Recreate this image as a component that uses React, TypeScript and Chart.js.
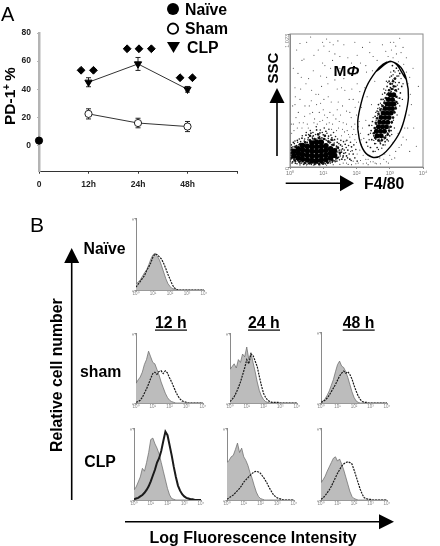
import React, { useEffect, useRef } from "react";
import { Chart, registerables } from "chart.js";

Chart.register(...registerables);

// ---------- Panel A ----------
const timeLabels = ["0", "12h", "24h", "48h", ""];
const timePositions = [1, 2, 3];
const naiveValue = [3.5];
const shamValues = [22.5, 16, 13.5];
const shamErrors = [3.6, 3.4, 3.6];
const clpValues = [45, 58, 40];
const clpErrors = [3.2, 4.6, 2];
const percentTicks = [0, 20, 40, 60, 80];
const legendLabels = ["Naïve", "Sham", "CLP"];
const diamondX = [0.85, 1.1, 1.78, 2.02, 2.27, 2.85, 3.1];
const diamondY = [53.5, 53.5, 68.8, 68.8, 68.8, 48.2, 48.2];

// ---------- Dot plot: [log10 F4/80, SSC] ----------
const lymphCore = [[0.12,85],[0.12,120],[0.25,70],[0.25,105],[0.25,140],[0.38,60],[0.38,95],[0.38,130],[0.38,165],[0.52,55],[0.52,90],[0.52,125],[0.52,160],[0.66,50],[0.66,85],[0.66,120],[0.66,155],[0.66,185],[0.8,50],[0.8,85],[0.8,120],[0.8,155],[0.8,190],[0.94,52],[0.94,87],[0.94,122],[0.94,157],[0.94,190],[1.08,58],[1.08,93],[1.08,128],[1.08,163],[1.22,70],[1.22,105],[1.22,140],[1.34,90],[1.34,125]];
const macCore = [[2.62,240],[2.74,240],[2.6,275],[2.72,275],[2.84,275],[2.66,310],[2.78,310],[2.9,310],[2.7,345],[2.82,345],[2.94,345],[2.74,380],[2.86,380],[2.98,380],[2.8,415],[2.92,415],[3.04,415],[2.86,450],[2.98,450],[3.08,450],[2.92,485],[3.02,485],[3.12,485],[2.96,520],[3.08,520],[3.02,555],[3.12,555]];
const macShoulder = [[2.52,260],[2.55,300],[2.58,340],[2.62,375],[2.66,410],[2.72,440],[2.78,470],[2.84,495],[2.88,530],[2.94,560],[2.98,590],[3.06,600],[3.12,620],[3.18,590],[3.2,540],[3.2,500],[3.18,450],[3.14,420],[3.1,380],[3.06,345],[3.02,310],[2.98,280],[2.94,250],[2.86,225],[2.76,205],[2.66,205],[2.56,225],[3.1,660],[3.02,640],[3.16,680]];
const lymphShoulder = [[0.04,70],[0.04,105],[0.06,135],[0.14,50],[0.16,155],[0.28,40],[0.3,175],[0.44,30],[0.46,190],[0.58,28],[0.6,205],[0.74,25],[0.74,215],[0.88,24],[0.88,222],[1,28],[1.02,215],[1.14,34],[1.16,195],[1.28,48],[1.3,170],[1.42,70],[1.44,150],[1.5,110],[0.6,240],[0.85,250],[1.05,240],[1.25,210]];
const lymphHalo = [[0.02,60],[0.03,110],[0.05,150],[0.08,40],[0.1,190],[0.12,130],[0.14,72],[0.16,30],[0.2,165],[0.22,205],[0.24,48],[0.26,145],[0.3,25],[0.33,180],[0.36,222],[0.38,42],[0.4,160],[0.43,200],[0.46,30],[0.48,245],[0.5,48],[0.52,190],[0.55,225],[0.58,36],[0.6,205],[0.63,260],[0.66,30],[0.68,218],[0.7,240],[0.73,34],[0.76,212],[0.8,285],[0.82,30],[0.85,228],[0.88,205],[0.9,262],[0.92,36],[0.96,225],[1,248],[1.02,32],[1.05,215],[1.08,275],[1.1,38],[1.14,200],[1.16,238],[1.2,44],[1.22,190],[1.26,225],[1.28,56],[1.32,170],[1.34,210],[1.38,62],[1.4,160],[1.42,190],[1.46,75],[1.48,130],[1.5,100],[1.52,170],[1.56,60],[1.58,140],[1.62,105],[1.66,175],[1.7,85],[1.74,130],[1.8,60],[1.85,155],[1.9,100],[0.06,85],[0.1,100],[0.15,55],[0.2,125],[0.62,30],[0.78,26],[0.95,28],[1.12,50],[1.35,48],[1.45,145],[1.55,115],[1.6,85]];
const lymphGrain = [[0.01,45],[0.02,90],[0.02,130],[0.04,170],[0.06,30],[0.07,120],[0.09,155],[0.11,60],[0.13,180],[0.15,200],[0.17,42],[0.18,160],[0.21,25],[0.23,190],[0.27,170],[0.28,215],[0.31,40],[0.32,195],[0.35,30],[0.37,240],[0.41,20],[0.44,215],[0.47,185],[0.49,265],[0.51,22],[0.54,210],[0.56,250],[0.59,195],[0.61,280],[0.64,20],[0.67,230],[0.69,265],[0.72,205],[0.74,18],[0.77,250],[0.79,310],[0.81,215],[0.84,255],[0.87,18],[0.89,235],[0.91,285],[0.93,215],[0.97,265],[0.99,22],[1.01,215],[1.03,300],[1.06,240],[1.07,24],[1.09,205],[1.11,260],[1.13,28],[1.15,220],[1.17,290],[1.19,185],[1.21,30],[1.23,245],[1.25,170],[1.27,35],[1.29,205],[1.31,265],[1.33,185],[1.36,40],[1.37,235],[1.39,145],[1.41,45],[1.43,215],[1.44,115],[1.47,180],[1.49,55],[1.51,85],[1.53,205],[1.54,130],[1.57,160],[1.59,75],[1.61,195],[1.63,130],[1.65,55],[1.67,110],[1.69,150],[1.71,205],[1.73,70],[1.76,165],[1.78,100],[1.82,190],[1.84,50],[1.87,125],[1.92,170],[1.95,70],[1.98,135],[2.02,45]];
const macHalo = [[2.3,190],[2.36,250],[2.38,320],[2.42,150],[2.44,280],[2.46,210],[2.48,350],[2.5,120],[2.52,240],[2.54,300],[2.55,180],[2.56,390],[2.58,215],[2.6,265],[2.6,330],[2.62,150],[2.62,430],[2.64,230],[2.66,360],[2.7,200],[2.7,400],[2.72,180],[2.74,450],[2.76,215],[2.76,380],[2.8,170],[2.82,230],[2.82,420],[2.84,490],[2.86,195],[2.88,240],[2.88,450],[2.9,530],[2.92,210],[2.94,260],[2.94,480],[2.96,570],[2.98,300],[3,240],[3,540],[3.02,610],[3.04,280],[3.04,580],[3.06,340],[3.08,640],[3.1,380],[3.1,600],[3.12,430],[3.14,680],[3.15,510],[3.16,590],[3.18,460],[3.18,620],[3.2,540],[3.22,700],[3.24,490],[3.26,600],[3.28,650],[3.3,530],[3.3,720],[3.32,570],[3.36,620],[2.98,660],[3.05,700],[2.92,620],[2.85,570],[2.8,520],[2.74,520],[2.66,480],[3.12,740],[3.2,760],[3.08,780]];
const macGrain = [[2.52,205],[2.55,265],[2.57,330],[2.58,180],[2.59,360],[2.61,225],[2.63,300],[2.64,395],[2.65,200],[2.67,425],[2.68,215],[2.69,455],[2.71,190],[2.73,430],[2.75,480],[2.77,205],[2.79,440],[2.81,470],[2.83,215],[2.85,510],[2.87,225],[2.89,490],[2.91,555],[2.93,245],[2.95,530],[2.97,595],[2.99,270],[3.01,570],[3.03,640],[3.05,310],[3.07,600],[3.09,670],[3.11,360],[3.13,620],[3.15,420],[3.17,650],[3.19,480],[3.21,580],[3.23,630],[3.25,530],[3.27,700],[2.88,590],[2.94,650],[3,690],[3.03,730],[3.1,710],[3.16,730],[3.26,740],[2.78,560],[2.72,490],[2.64,450],[2.58,420],[2.5,380],[2.46,320],[2.42,260],[2.38,210],[2.34,160],[2.56,120],[2.66,135],[2.76,145],[2.86,170],[2.96,200],[3.06,250],[3.14,300],[3.22,400],[3.3,470],[3.38,520],[3.4,640],[3.34,680],[2.82,600],[2.9,660]];
const sparseEvents = [[0.05,260],[0.1,330],[0.08,470],[0.15,610],[0.1,760],[0.2,900],[0.22,300],[0.25,420],[0.3,520],[0.34,690],[0.4,340],[0.45,470],[0.42,830],[0.5,960],[0.55,300],[0.6,410],[0.65,590],[0.7,740],[0.72,340],[0.8,480],[0.85,900],[0.9,350],[0.95,620],[1,440],[1.05,780],[1.1,330],[1.15,540],[1.2,960],[1.25,290],[1.3,400],[1.35,670],[1.4,280],[1.45,500],[1.5,850],[1.55,240],[1.6,340],[1.65,590],[1.7,430],[1.75,720],[1.8,230],[1.85,310],[1.9,520],[1.95,960],[2,190],[2,400],[2.02,640],[2.05,270],[2.1,130],[2.12,800],[2.15,460],[2.2,90],[2.25,610],[2.28,360],[2.3,730],[2.35,60],[2.4,880],[2.45,480],[2.5,40],[2.55,660],[2.62,820],[2.7,70],[2.78,940],[2.85,100],[2.95,850],[3.05,900],[3.12,960],[3.2,870],[3.3,990],[3.4,920],[3.5,840],[3.55,640],[3.65,480],[3.7,760],[3.45,300],[3.5,210],[3.25,260],[3.35,170],[3.1,190],[3,90],[3.15,70],[3.6,120],[1.6,30],[1.75,20],[1.9,45],[2.05,30],[2.2,25],[2.35,18],[2.6,25],[2.9,40],[1.35,870],[1.1,690],[0.62,1000],[0.3,950],[0.15,480],[0.48,640],[0.78,560],[1.22,760],[1.55,610],[1.78,520],[1.95,330],[1.68,200],[1.82,120],[2.02,100],[2.15,170],[2.28,60],[2.42,40],[2.12,260],[2.22,220],[1.95,210],[1.88,250],[2.08,350],[1.72,280],[1.48,350],[1.2,420],[0.92,490],[0.68,420],[2.4,960],[2.18,920],[1.85,800],[1.62,940],[2.48,740],[2.32,540]];
const sparseMore = [[0.04,330],[0.12,280],[0.18,380],[0.28,340],[0.36,300],[0.44,390],[0.52,330],[0.58,470],[0.74,370],[0.82,330],[0.88,420],[0.98,360],[1.04,400],[1.12,380],[1.18,340],[1.28,330],[1.38,370],[1.46,300],[1.52,400],[1.58,290],[1.64,270],[1.7,330],[1.76,250],[1.84,380],[1.92,290],[1.98,250],[2.06,310],[2.14,210],[2.18,300],[0.16,540],[0.32,600],[0.64,510],[0.86,560],[1.02,520],[1.24,500],[1.42,440],[1.58,470],[1.8,420],[1.96,460],[2.06,500],[0.24,720],[0.56,680],[0.92,700],[1.14,640],[1.42,600],[1.62,680],[1.86,600],[2,720],[2.1,580],[0.36,820],[0.72,860],[0.98,800],[1.28,820],[1.5,760],[1.74,840],[2.02,860],[2.28,780],[2.5,850],[0.98,960],[1.1,985],[1.02,930],[1.18,890],[1.3,940],[1.44,970],[2.88,890],[3.02,960],[3.1,840],[3.18,930],[3.26,810],[3.34,880],[3.42,790],[3.5,730],[3.6,690],[3.62,560],[3.58,400],[3.72,300],[3.8,160],[3.86,620],[3.54,300],[3.4,230],[3.28,150],[3.18,120],[3.06,60],[2.96,30],[2.82,60],[2.72,25],[2.48,75],[2.4,90],[2.56,30],[2.3,30],[2.12,50],[1.98,25],[1.85,18],[1.7,30],[0.3,14],[0.5,10],[0.7,12],[0.9,10],[1.1,14],[1.3,18],[1.5,20]];

// Closed gate outline, same units as the events
const gateX = [2.58, 3.07, 3.5, 3.47, 3.02, 2.48, 2.08, 2.14, 2.58, 3.07, 3.5];
const gateY = [733, 810, 673, 398, 157, 75, 221, 491, 733, 810, 673];
const dotTickLabels = ["10⁰", "10¹", "10²", "10³", "10⁴"];

// ---------- Histograms: % of axis height per bin ----------
const binCentres = [0,0.125,0.25,0.375,0.5,0.625,0.75,0.875,1,1.125,1.25,1.375,1.5,1.625,1.75,1.875,2,2.125,2.25,2.375,2.5,2.625,2.75,2.875,3,3.125,3.25,3.375,3.5,3.625,3.75,3.875,4];
const naiveGrey = [8,11,14,19,24,28,35,43,49,51,47,42,34,25,16,9,5,2,1];
const naiveLine = [4,8,12,16,20,27,32,38,46,50,49,46,43,37,30,22,15,8,3,1];
const sham12Grey = [28,33,37,44,55,62,74,66,58,56,48,40,30,22,14,8,4,2,1];
const sham12Line = [1,2,4,8,14,20,27,35,42,44,41,45,46,42,46,43,36,30,23,16,10,6,3,2,1];
const sham24Grey = [48,52,56,50,62,58,70,66,80,62,72,58,45,30,18,10,5,2,1];
const sham24Line = [2,5,9,15,22,30,40,50,62,56,70,68,60,52,38,25,14,8,4,2,1,1,1,1];
const sham48Grey = [1,3,6,11,17,25,33,44,54,59,52,50,44,36,26,16,8,3,1];
const sham48Line = [1,2,4,7,11,16,21,26,32,38,42,45,42,44,40,34,25,17,10,5,2,1,1];
const clp12Grey = [14,18,25,32,44,40,52,66,84,86,78,72,64,52,40,28,16,7,2,1];
const clp12Line = [1,2,3,5,7,10,14,19,26,34,42,52,58,68,82,95,90,76,62,46,32,20,13,8,5,3,2,1,1];
const clp24Grey = [52,55,60,62,70,79,66,72,60,55,48,38,30,20,11,5,2,1];
const clp24Line = [1,3,5,7,10,13,16,20,25,28,31,34,37,39,40,39,37,33,29,24,18,13,8,5,3,2,1];
const clp48Grey = [24,28,33,40,46,52,58,60,54,57,50,42,32,22,12,5,2,1];
const clp48Line = [1,3,6,10,14,19,25,31,37,42,47,50,52,53,52,50,42,33,24,15,8,3,2,1,1];

const histoTickLabels = ["10⁰", "10¹", "10²", "10³", "10⁴"];

const FONT = '"Liberation Sans", Arial, sans-serif';

const histoPanels = [
  { box: [136, 218, 68, 72], grey: naiveGrey, line: naiveLine, width: 1.2 },
  { box: [136, 333, 67, 70], grey: sham12Grey, line: sham12Line, width: 1.2 },
  { box: [230, 333, 67, 70], grey: sham24Grey, line: sham24Line, width: 1.2 },
  { box: [320.7, 332, 66, 71], grey: sham48Grey, line: sham48Line, width: 1.2 },
  { box: [134.3, 428, 67, 72], grey: clp12Grey, line: clp12Line, width: 2 },
  { box: [227.3, 428, 67, 72], grey: clp24Grey, line: clp24Line, width: 1.2 },
  { box: [320.7, 428, 66, 72], grey: clp48Grey, line: clp48Line, width: 1.2 },
];

const fixWidth = (w: number) => (s: any) => { s.width = w; };
const fixHeight = (h: number) => (s: any) => { s.height = h; };

function arrow(ctx: any, x1: number, y1: number, x2: number, y2: number, head: number, half: number) {
  const len = Math.hypot(x2 - x1, y2 - y1);
  const ux = (x2 - x1) / len, uy = (y2 - y1) / len;
  const bx = x2 - ux * head, by = y2 - uy * head;
  ctx.strokeStyle = "#000";
  ctx.fillStyle = "#000";
  ctx.lineWidth = 1.6;
  ctx.beginPath(); ctx.moveTo(x1, y1); ctx.lineTo(bx, by); ctx.stroke();
  ctx.beginPath();
  ctx.moveTo(x2, y2);
  ctx.lineTo(bx - uy * half, by + ux * half);
  ctx.lineTo(bx + uy * half, by - ux * half);
  ctx.closePath(); ctx.fill();
}

function text(ctx: any, s: string, x: number, y: number, size: number, opts: any = {}) {
  ctx.save();
  ctx.translate(x, y);
  if (opts.rotate) ctx.rotate(opts.rotate);
  ctx.font = `${opts.style || "bold"} ${size}px ${FONT}`;
  ctx.fillStyle = "#000";
  ctx.textAlign = opts.align || "left";
  ctx.textBaseline = "alphabetic";
  ctx.fillText(s, 0, 0);
  ctx.restore();
}

const errorBarsPlugin = {
  id: "errorBars",
  beforeDatasetsDraw(chart: any) {
    const { ctx, scales } = chart;
    const draw = (vals: number[], errs: number[]) => {
      ctx.save();
      ctx.strokeStyle = "#222";
      ctx.lineWidth = 1;
      vals.forEach((v, i) => {
        const x = scales.x.getPixelForValue(timePositions[i]);
        const hi = scales.y.getPixelForValue(v + errs[i]);
        const lo = scales.y.getPixelForValue(v - errs[i]);
        ctx.beginPath();
        ctx.moveTo(x, hi); ctx.lineTo(x, lo);
        ctx.moveTo(x - 2.5, hi); ctx.lineTo(x + 2.5, hi);
        ctx.moveTo(x - 2.5, lo); ctx.lineTo(x + 2.5, lo);
        ctx.stroke();
      });
      ctx.restore();
    };
    draw(shamValues, shamErrors);
    draw(clpValues, clpErrors);
  },
};

const annotationsPlugin = {
  id: "annotations",
  afterDraw(chart: any) {
    const ctx = chart.ctx;
    ctx.save();
    text(ctx, "A", 1, 21, 20, { style: "normal" });
    text(ctx, "B", 30, 232, 21, { style: "normal" });
    const ys = [9, 28.7, 47.5];
    ctx.fillStyle = "#000";
    ctx.beginPath(); ctx.arc(173, ys[0], 6, 0, 7); ctx.fill();
    ctx.lineWidth = 1.8; ctx.strokeStyle = "#000";
    ctx.beginPath(); ctx.arc(173, ys[1], 5.2, 0, 7); ctx.stroke();
    ctx.beginPath(); ctx.moveTo(167, 42); ctx.lineTo(180, 42); ctx.lineTo(173.5, 53); ctx.closePath(); ctx.fill();
    text(ctx, legendLabels[0], 185, 14.5, 15.8);
    text(ctx, legendLabels[1], 185, 34, 15.8);
    text(ctx, legendLabels[2], 187, 53, 15.8);
    const r = -Math.PI / 2;
    text(ctx, "PD-1", 15, 125, 15.5, { rotate: r });
    text(ctx, "+", 9.5, 90, 10, { rotate: r });
    text(ctx, "%", 15, 81, 15.5, { rotate: r });
    text(ctx, "SSC", 277.5, 83.5, 15, { rotate: r });
    arrow(ctx, 277, 156, 277, 88, 15, 7.5);
    text(ctx, "F4/80", 364, 189, 15.8);
    arrow(ctx, 285.7, 183.3, 354, 183.3, 14, 8);
    text(ctx, "M", 333.5, 75.5, 15.5);
    text(ctx, "Φ", 346.5, 75.5, 15.5, { style: "italic bold" });
    text(ctx, "Naïve", 83.5, 254, 15.8);
    text(ctx, "sham", 80, 377, 15.8);
    text(ctx, "CLP", 84.3, 466.7, 15.8);
    const heads: [string, number][] = [["12 h", 155], ["24 h", 248], ["48 h", 342.7]];
    heads.forEach(([s, x]) => {
      text(ctx, s, x, 328, 15.8);
      ctx.fillStyle = "#000";
      ctx.fillRect(x, 329.5, 32, 1.2);
    });
    text(ctx, "Relative cell number", 62, 452, 15.8, { rotate: r });
    arrow(ctx, 71.7, 500, 71.7, 248, 15, 7.5);
    arrow(ctx, 125, 521.7, 394, 521.7, 15, 7.5);
    text(ctx, "Log Fluorescence Intensity", 149.5, 543, 16);
    ctx.restore();
  },
};

const frameAreaPlugin = {
  id: "frameArea",
  afterDraw(chart: any) {
    const { ctx, chartArea: a } = chart;
    ctx.save();
    ctx.strokeStyle = "#8a8a8a";
    ctx.lineWidth = 1;
    ctx.strokeRect(a.left, a.top, a.right - a.left, a.bottom - a.top);
    ctx.restore();
  },
};

function mainConfig(): any {
  return {
    type: "scatter",
    data: {
      datasets: [
        {
          label: "Naïve",
          order: 1,
          data: naiveValue.map((y) => ({ x: 0, y })),
          pointStyle: "circle", pointRadius: 3.6,
          backgroundColor: "#000", borderColor: "#000",
          clip: false,
        },
        {
          label: "Sham",
          order: 2,
          data: shamValues.map((y, i) => ({ x: timePositions[i], y })),
          showLine: true, borderColor: "#333", borderWidth: 1,
          pointStyle: "circle", pointRadius: 3.6, pointBorderWidth: 1,
          pointBackgroundColor: "#fff", pointBorderColor: "#222",
        },
        {
          label: "CLP",
          order: 3,
          data: clpValues.map((y, i) => ({ x: timePositions[i], y })),
          showLine: true, borderColor: "#333", borderWidth: 1,
          pointStyle: "triangle", pointRotation: 180, pointRadius: 4.2,
          pointBackgroundColor: "#000", pointBorderColor: "#000",
        },
        {
          label: "Significance",
          order: 4,
          data: diamondX.map((x, i) => ({ x, y: diamondY[i] })),
          pointStyle: "rectRot", pointRadius: 3.9,
          backgroundColor: "#000", borderColor: "#000",
        },
      ],
    },
    options: {
      responsive: false,
      animation: false,
      layout: { padding: { left: 9, top: 33, right: 203, bottom: 354.3 } },
      plugins: { legend: { display: false }, tooltip: { enabled: false } },
      scales: {
        x: {
          type: "linear", min: 0, max: 4,
          afterFit: fixHeight(20),
          afterBuildTicks: (s: any) => { s.ticks = timeLabels.map((_, i) => ({ value: i })); },
          border: { color: "#333", width: 1 },
          grid: { drawOnChartArea: false, drawTicks: true, tickLength: 2, color: "#333" },
          ticks: {
            autoSkip: false, maxRotation: 0, padding: 6,
            color: "#222", font: { family: FONT, size: 8.5, weight: "bold" },
            callback: (v: number) => timeLabels[v],
          },
        },
        y: {
          type: "linear", min: -18.6, max: 80,
          afterFit: fixWidth(30),
          afterBuildTicks: (s: any) => { s.ticks = percentTicks.map((value) => ({ value })); },
          border: { color: "#b4b4b4", width: 2.5 },
          grid: { drawOnChartArea: false, drawTicks: true, tickLength: 2, color: "#b4b4b4" },
          ticks: {
            autoSkip: false, padding: 6,
            color: "#222", font: { family: FONT, size: 8.5, weight: "bold" },
          },
        },
      },
    },
    plugins: [errorBarsPlugin, annotationsPlugin],
  };
}

function toPoints(rows: number[][]) {
  return rows.map(([x, y]) => ({ x, y }));
}

function dotConfig(pad: number): any {
  const dots = (label: string, rows: number[][], radius: number, order: number, color = "#000") => ({
    label, order, data: toPoints(rows),
    pointRadius: radius, pointBorderWidth: 0,
    pointBackgroundColor: color, showLine: false,
  });
  return {
    type: "scatter",
    data: {
      datasets: [
        {
          label: "Gate", order: 0,
          data: gateX.map((x, i) => ({ x, y: gateY[i] })),
          showLine: true, tension: 0.42, borderColor: "#000", borderWidth: 1.4,
          pointRadius: 0,
        },
        dots("Lymphocyte core", lymphCore, 2.8, 1),
        dots("Macrophage core", macCore, 2.5, 2),
        dots("Macrophage shoulder", macShoulder, 1.3, 3, "#111"),
        dots("Lymphocyte shoulder", lymphShoulder, 1.3, 3, "#111"),
        dots("Lymphocyte halo", lymphHalo, 0.85, 4, "#111"),
        dots("Lymphocyte grain", lymphGrain, 0.8, 5, "#222"),
        dots("Macrophage halo", macHalo, 0.85, 6, "#111"),
        dots("Macrophage grain", macGrain, 0.7, 7, "#222"),
        dots("Sparse", sparseEvents, 0.55, 8, "#444"),
        dots("Sparse more", sparseMore, 0.55, 9, "#444"),
      ],
    },
    options: {
      responsive: false,
      animation: false,
      layout: { padding: { top: pad, right: pad, left: 0, bottom: 0 } },
      plugins: { legend: { display: false }, tooltip: { enabled: false } },
      scales: {
        x: {
          type: "linear", min: 0, max: 4,
          afterFit: fixHeight(pad),
          afterBuildTicks: (s: any) => { s.ticks = dotTickLabels.map((_, i) => ({ value: i })); },
          border: { color: "#8a8a8a" },
          grid: { drawOnChartArea: false, drawTicks: true, tickLength: 2, color: "#8a8a8a" },
          ticks: {
            autoSkip: false, maxRotation: 0, padding: 1, color: "#777",
            font: { family: FONT, size: 5.5 },
            callback: (v: number) => dotTickLabels[v],
          },
        },
        y: {
          type: "linear", min: 0, max: 1023,
          afterFit: fixWidth(pad),
          afterBuildTicks: (s: any) => { s.ticks = [0, 1023].map((value) => ({ value })); },
          border: { color: "#8a8a8a" },
          grid: { drawOnChartArea: false, drawTicks: true, tickLength: 2, color: "#8a8a8a" },
          ticks: {
            autoSkip: false, minRotation: 90, maxRotation: 90, padding: 1, color: "#777",
            font: { family: FONT, size: 5.5 },
          },
        },
      },
    },
    plugins: [frameAreaPlugin],
  };
}

function histoConfig(grey: number[], line: number[], width: number, pad: number): any {
  const points = (vals: number[]) => binCentres.map((x, i) => ({ x, y: vals[i] ?? 0 }));
  return {
    type: "scatter",
    data: {
      datasets: [
        {
          label: "Stained", order: 1, data: points(line),
          showLine: true, fill: false, tension: 0, pointRadius: 0,
          borderColor: "#1a1a1a", borderWidth: width,
          borderDash: width > 1.5 ? [] : [2, 1],
        },
        {
          label: "Control", order: 2, data: points(grey),
          showLine: true, fill: "origin", tension: 0, pointRadius: 0,
          backgroundColor: "#bcbcbc", borderColor: "#666", borderWidth: 0.7,
        },
      ],
    },
    options: {
      responsive: false,
      animation: false,
      layout: { padding: { top: pad, right: pad, left: 0, bottom: 0 } },
      plugins: { legend: { display: false }, tooltip: { enabled: false } },
      scales: {
        x: {
          type: "linear", min: 0, max: 4,
          afterFit: fixHeight(pad),
          afterBuildTicks: (s: any) => { s.ticks = histoTickLabels.map((_, i) => ({ value: i })); },
          border: { color: "#999" },
          grid: { drawOnChartArea: false, drawTicks: true, tickLength: 1.5, color: "#999" },
          ticks: {
            autoSkip: false, maxRotation: 0, padding: 0, color: "#888",
            font: { family: FONT, size: 4.5 },
            callback: (v: number) => histoTickLabels[v],
          },
        },
        y: {
          type: "linear", min: 0, max: 100,
          afterFit: fixWidth(pad),
          afterBuildTicks: (s: any) => { s.ticks = [0, 100].map((value) => ({ value })); },
          border: { color: "#8a8a8a" },
          grid: { drawOnChartArea: false, drawTicks: true, tickLength: 1.5, color: "#999" },
          ticks: {
            autoSkip: false, minRotation: 90, maxRotation: 90, padding: 0, color: "#888",
            font: { family: FONT, size: 4.5 },
            callback: (v: number) => (v === 0 ? "0" : "5"),
          },
        },
      },
    },
  };
}

function place(host: HTMLElement, box: number[], pad: number) {
  const [l, t, w, h] = box;
  const c = document.createElement("canvas");
  c.width = Math.round(w + pad * 2);
  c.height = Math.round(h + pad * 2);
  c.style.cssText = `position:absolute;left:${l - pad}px;top:${t - pad}px;width:${c.width}px;height:${c.height}px;display:block;`;
  host.appendChild(c);
  return c;
}

export default function App() {
  const hostRef = useRef<HTMLDivElement>(null);
  const mainRef = useRef<HTMLCanvasElement>(null);

  useEffect(() => {
    const host = hostRef.current!;
    const charts: Chart[] = [];
    const extra: HTMLCanvasElement[] = [];
    charts.push(new Chart(mainRef.current!, mainConfig()));

    const dotCanvas = place(host, [290, 34, 132.7, 132.7], 14);
    extra.push(dotCanvas);
    charts.push(new Chart(dotCanvas, dotConfig(14)));

    histoPanels.forEach((p) => {
      const c = place(host, p.box, 10);
      extra.push(c);
      charts.push(new Chart(c, histoConfig(p.grey, p.line, p.width, 10)));
    });

    return () => {
      charts.forEach((c) => c.destroy());
      extra.forEach((c) => c.remove());
    };
  }, []);

  return (
    <div
      ref={hostRef}
      style={{ position: "absolute", left: 0, top: 0, width: 440, height: 546, background: "#fff", overflow: "hidden" }}
    >
      <canvas ref={mainRef} width={440} height={546} style={{ position: "absolute", left: 0, top: 0, display: "block" }} />
    </div>
  );
}
